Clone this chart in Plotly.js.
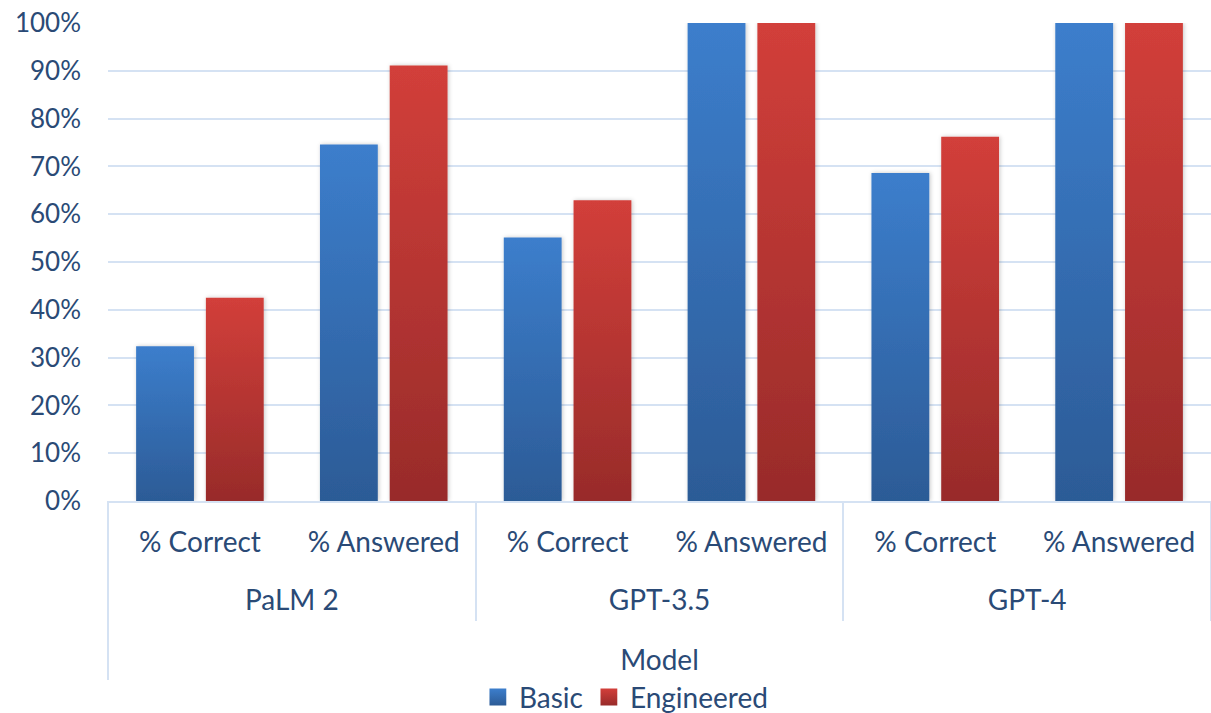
<!DOCTYPE html>
<html>
<head>
<meta charset="utf-8">
<script src="https://cdn.plot.ly/plotly-3.0.1.min.js"></script>
<style>
html,body{margin:0;padding:0;background:#fff;}
#chart{width:1211px;height:713px;}
</style>
</head>
<body>
<div id="chart"></div>
<script>
// ---- data ----
const models = ['PaLM 2', 'GPT-3.5', 'GPT-4'];
const metrics = ['% Correct', '% Answered'];
const basic = [0.324, 0.746, 0.551, 1.0, 0.686, 1.0];
const engineered = [0.425, 0.911, 0.629, 1.0, 0.762, 1.0];
const yTicks = [0, 0.1, 0.2, 0.3, 0.4, 0.5, 0.6, 0.7, 0.8, 0.9, 1.0];
const seriesNames = ['Basic', 'Engineered'];

// category keys (one per model/metric pair) and their visible labels
const keys = [], innerLabels = [];
models.forEach(m => metrics.forEach(k => { keys.push(m + ' | ' + k); innerLabels.push(k); }));
const nCat = keys.length, perGroup = metrics.length;
const groupCenters = models.map((_, i) => i * perGroup + (perGroup - 1) / 2);
const groupEdges = [-0.5].concat(models.map((_, i) => (i + 1) * perGroup - 0.5));

const textColor = '#2A4A76';
const gridColor = '#D5E2F3';
const fam = 'Lato, "Open Sans", sans-serif';
const font = {family: fam, size: 28, color: textColor};

const traces = [
  {type: 'bar', name: seriesNames[0], x: keys, y: basic,
   marker: {color: '#3469B0', line: {width: 0}}, hoverinfo: 'skip'},
  {type: 'bar', name: seriesNames[1], x: keys, y: engineered,
   marker: {color: '#B9342F', line: {width: 0}}, hoverinfo: 'skip'},
  // empty helper traces so the group-label axis and divider axis are drawn
  {type: 'scatter', x: [], y: [], xaxis: 'x2', showlegend: false, hoverinfo: 'skip'},
  {type: 'scatter', x: [], y: [], xaxis: 'x3', showlegend: false, hoverinfo: 'skip'}
];

const layout = {
  width: 1211, height: 713,
  margin: {l: 108, r: 0, t: 23, b: 212},
  paper_bgcolor: '#fff', plot_bgcolor: '#fff',
  font: font,
  barmode: 'group', bargap: 0.241, bargroupgap: 0.171,
  showlegend: true,
  legend: {orientation: 'h', xref: 'container', yref: 'container', x: 0.516, xanchor: 'center',
           y: 0.022, yanchor: 'middle', font: font, traceorder: 'normal', itemwidth: 32},
  xaxis: {type: 'category', automargin: false, showgrid: false, showline: true, linecolor: gridColor, linewidth: 2,
          tickmode: 'array', tickvals: keys, ticktext: innerLabels, tickfont: font,
          ticks: 'outside', ticklen: 15, tickcolor: 'rgba(0,0,0,0)',
          title: {text: 'Model', font: font, standoff: 99}},
  xaxis2: {overlaying: 'x', anchor: 'y', side: 'bottom', type: 'linear', automargin: false,
           range: [-0.5, nCat - 0.5], showgrid: false, zeroline: false, showline: false,
           tickmode: 'array', tickvals: groupCenters, ticktext: models, tickfont: font,
           ticks: 'outside', ticklen: 74, tickcolor: 'rgba(0,0,0,0)'},
  xaxis3: {overlaying: 'x', anchor: 'y', side: 'bottom', type: 'linear', automargin: false,
           range: [-0.5, nCat - 0.5], showgrid: false, zeroline: false, showline: false,
           tickmode: 'array', tickvals: groupEdges, showticklabels: false,
           ticks: 'outside', ticklen: 119, tickcolor: gridColor, tickwidth: 2},
  yaxis: {range: [0, 1], automargin: false, tickvals: yTicks, tickformat: '.0%', showgrid: true,
          gridcolor: gridColor, gridwidth: 2, zeroline: false, showline: false, ticks: '',
          tickfont: {family: fam, size: 26, color: textColor}, ticklabelstandoff: 26},
  shapes: [{type: 'line', xref: 'paper', yref: 'paper', x0: 0, x1: 0, y0: 0, y1: -0.3745,
            line: {color: gridColor, width: 2}}]
};

Plotly.newPlot('chart', traces, layout, {staticPlot: true, displayModeBar: false}).then(gd => {
  const svg = gd.querySelector('svg.main-svg');
  const ns = 'http://www.w3.org/2000/svg';
  let defs = svg.querySelector('defs');
  function grad(id, top, bottom) {
    const g = document.createElementNS(ns, 'linearGradient');
    g.setAttribute('id', id); g.setAttribute('x1', '0'); g.setAttribute('y1', '0');
    g.setAttribute('x2', '0'); g.setAttribute('y2', '1');
    [[0, top], [1, bottom]].forEach(([o, c]) => {
      const s = document.createElementNS(ns, 'stop');
      s.setAttribute('offset', o); s.setAttribute('stop-color', c); g.appendChild(s);
    });
    defs.appendChild(g);
  }
  grad('gBlue', '#3C7ECC', '#2C5B96');
  grad('gRed', '#D23F3A', '#982B2A');
  const f = document.createElementNS(ns, 'filter');
  f.setAttribute('id', 'shadow'); f.setAttribute('x', '-20%'); f.setAttribute('y', '-5%');
  f.setAttribute('width', '140%'); f.setAttribute('height', '110%');
  f.innerHTML = '<feDropShadow dx="1" dy="0" stdDeviation="2" flood-color="#000" flood-opacity="0.22"/>';
  defs.appendChild(f);
  const ids = ['gBlue', 'gRed'];
  gd.querySelectorAll('.barlayer .trace').forEach((t, i) => {
    t.querySelectorAll('path').forEach(p => { p.style.fill = 'url(#' + ids[i] + ')'; p.style.filter = 'url(#shadow)'; });
  });
  gd.querySelectorAll('.legend .traces').forEach((t, i) => {
    t.querySelectorAll('.legendpoints path').forEach(p => {
      p.style.fill = 'url(#' + ids[i] + ')';
      const tr = p.getAttribute('transform') || '';
      p.setAttribute('transform', tr + ' scale(1.4)');
    });
  });
  // nudge the axis title a few pixels lower, as in the reference
  gd.querySelectorAll('.g-xtitle text').forEach(t => {
    const y = parseFloat(t.getAttribute('y'));
    if (!isNaN(y)) t.setAttribute('y', y + 4);
  });
});
</script>
</body>
</html>
